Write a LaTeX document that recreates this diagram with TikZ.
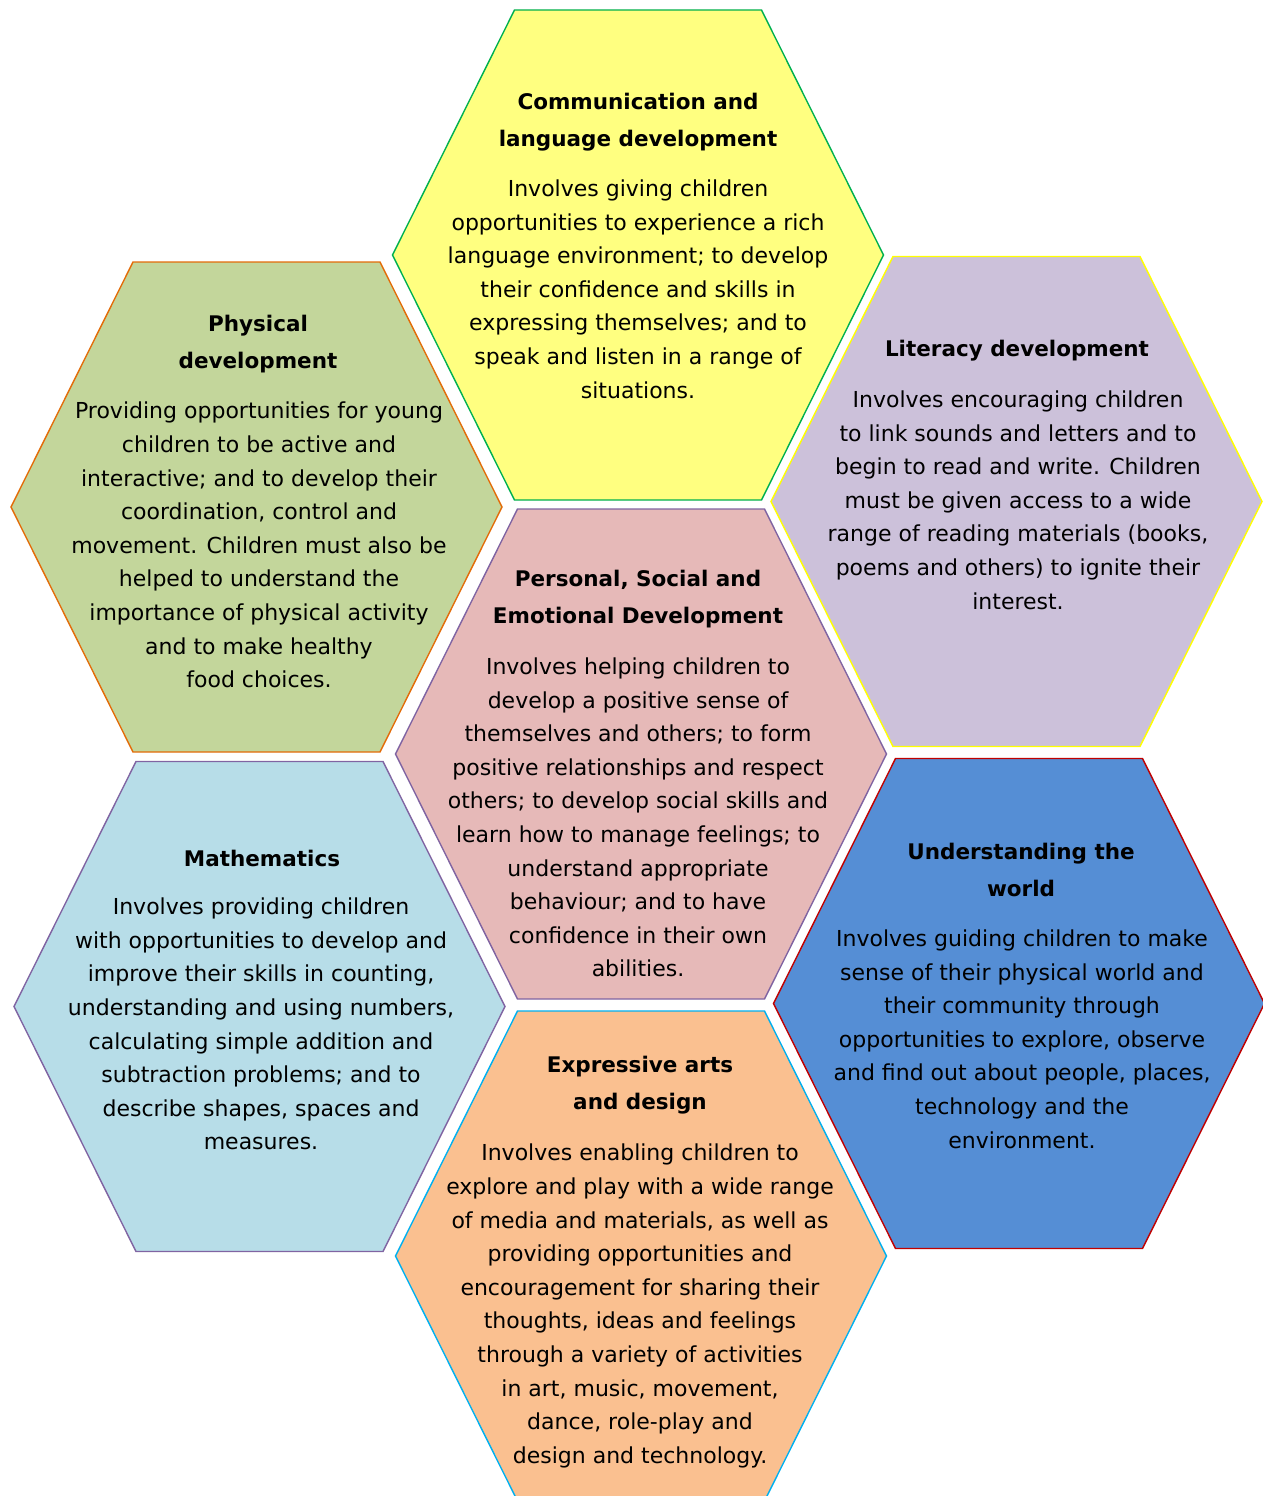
\documentclass[tikz,border=0pt]{standalone}
\usepackage{fontspec}
\setmainfont{DejaVu Sans}
\usepackage{tikz}
\usetikzlibrary{positioning}
\definecolor{yelFill}{HTML}{FFFF80}
\definecolor{yelLine}{HTML}{00B050}
\definecolor{grnFill}{HTML}{C3D69B}
\definecolor{grnLine}{HTML}{E36C09}
\definecolor{lilFill}{HTML}{CCC1DA}
\definecolor{lilLine}{HTML}{FFFF00}
\definecolor{pnkFill}{HTML}{E6B9B8}
\definecolor{pnkLine}{HTML}{8064A2}
\definecolor{bluFill}{HTML}{B7DDE8}
\definecolor{bluLine}{HTML}{8064A2}
\definecolor{dkbFill}{HTML}{558ED5}
\definecolor{dkbLine}{HTML}{C00000}
\definecolor{orgFill}{HTML}{FAC090}
\definecolor{orgLine}{HTML}{00B0F0}

\begin{document}
\begin{tikzpicture}[x=1pt,y=-1pt]
\tikzstyle{hex}=[line width=1.4pt,line join=miter]
\tikzstyle{title}=[align=center,inner sep=0pt,font=\fontsize{21.5}{37}\selectfont\bfseries]
\tikzstyle{body}=[align=center,inner sep=0pt,font=\fontsize{22}{33.6}\selectfont]
\useasboundingbox (0,0) rectangle (1263,1496);
\clip (0,0) rectangle (1263,1496);

\draw[hex,fill=yelFill,draw=yelLine] (514.5,10) -- (761.5,10) -- (883.5,255) -- (761.5,500) -- (514.5,500) -- (392.5,255) -- cycle;
\draw[hex,fill=grnFill,draw=grnLine] (133,262) -- (380,262) -- (502,507) -- (380,752) -- (133,752) -- (11,507) -- cycle;
\draw[hex,fill=lilFill,draw=lilLine] (893,256.5) -- (1140,256.5) -- (1262,501.5) -- (1140,746.5) -- (893,746.5) -- (771,501.5) -- cycle;
\draw[hex,fill=pnkFill,draw=pnkLine] (517.5,509) -- (764.5,509) -- (886.5,754) -- (764.5,999) -- (517.5,999) -- (395.5,754) -- cycle;
\draw[hex,fill=bluFill,draw=bluLine] (136,761.5) -- (383,761.5) -- (505,1006.5) -- (383,1251.5) -- (136,1251.5) -- (14,1006.5) -- cycle;
\draw[hex,fill=dkbFill,draw=dkbLine] (895.5,758.5) -- (1142.5,758.5) -- (1264.5,1003.5) -- (1142.5,1248.5) -- (895.5,1248.5) -- (773.5,1003.5) -- cycle;
\draw[hex,fill=orgFill,draw=orgLine] (517.5,1011) -- (764.5,1011) -- (886.5,1256) -- (764.5,1501) -- (517.5,1501) -- (395.5,1256) -- cycle;

\node[title] (commT) at (638,122.5) {Communication and\\language development};
\node[body] (commB) at (638,289) {Involves giving children\\opportunities to experience a rich\\language environment; to develop\\their confidence and skills in\\expressing themselves; and to\\speak and listen in a range of\\situations.};

\node[title] (physT) at (258,344.5) {Physical\\development};
\node[body] (physB) at (259,545) {Providing opportunities for young\\children to be active and\\interactive; and to develop their\\coordination, control and\\movement. Children must also be\\helped to understand the\\importance of physical activity\\and to make healthy\\food choices.};

\node[title] (litT) at (1017,351) {Literacy development};
\node[body] (litB) at (1018,500) {Involves encouraging children\\to link sounds and letters and to\\begin to read and write. Children\\must be given access to a wide\\range of reading materials (books,\\poems and others) to ignite their\\interest.};

\node[title] (pseT) at (638,599) {Personal, Social and\\Emotional Development};
\node[body] (pseB) at (638,817.5) {Involves helping children to\\develop a positive sense of\\themselves and others; to form\\positive relationships and respect\\others; to develop social skills and\\learn how to manage feelings; to\\understand appropriate\\behaviour; and to have\\confidence in their own\\abilities.};

\node[title] (mathT) at (262,858) {Mathematics};
\node[body] (mathB) at (261,1024) {Involves providing children\\with opportunities to develop and\\improve their skills in counting,\\understanding and using numbers,\\calculating simple addition and\\subtraction problems; and to\\describe shapes, spaces and\\measures.};

\node[title] (worldT) at (1021,869.5) {Understanding the\\world};
\node[body] (worldB) at (1022,1039) {Involves guiding children to make\\sense of their physical world and\\their community through\\opportunities to explore, observe\\and find out about people, places,\\technology and the\\environment.};

\node[title] (artT) at (640,1085.5) {Expressive arts\\and design};
\node[body] (artB) at (640,1306) {Involves enabling children to\\explore and play with a wide range\\of media and materials, as well as\\providing opportunities and\\encouragement for sharing their\\thoughts, ideas and feelings\\through a variety of activities\\in art, music, movement,\\dance, role-play and\\design and technology.};
\end{tikzpicture}
\end{document}
